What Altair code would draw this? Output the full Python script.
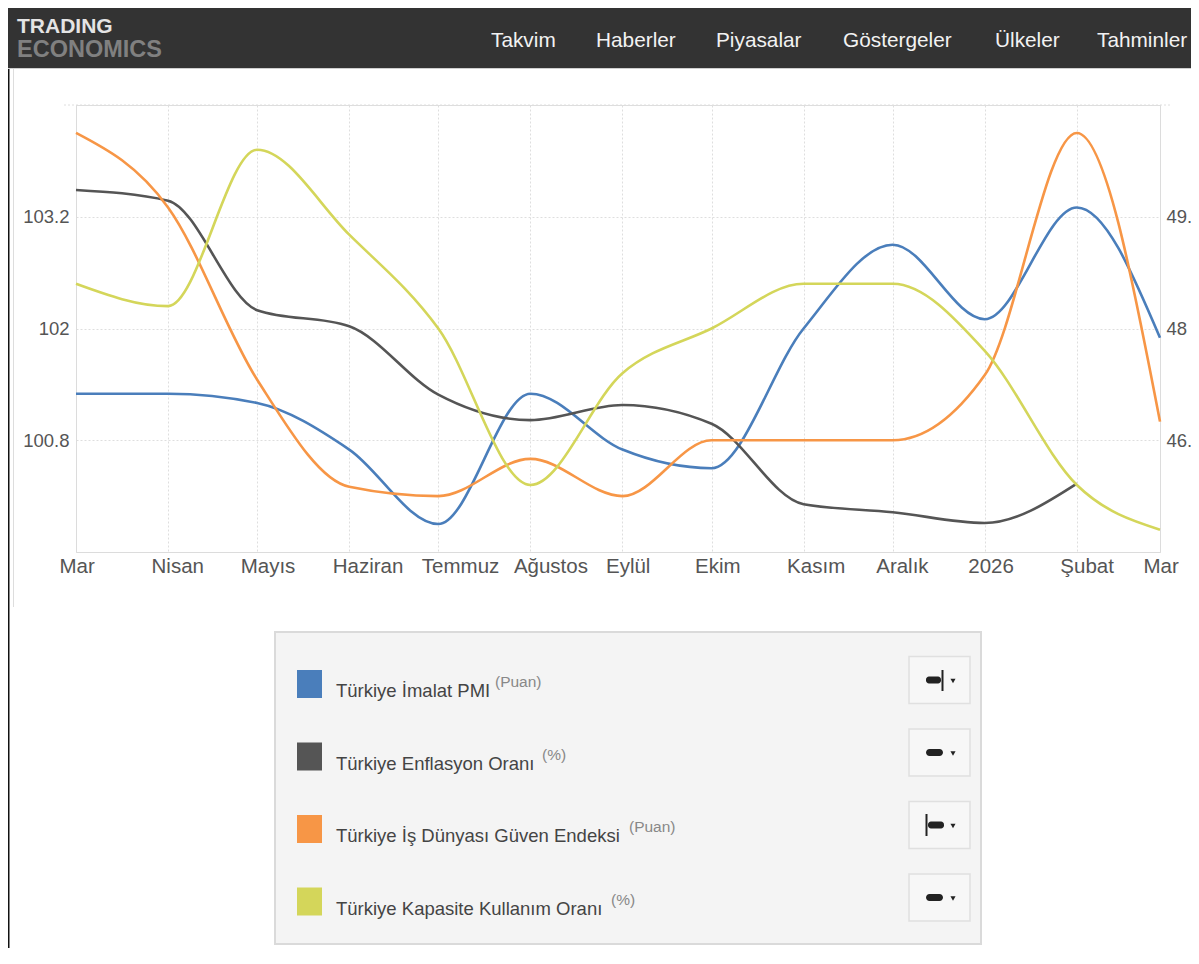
import json
import altair as alt
import pandas as pd

# ---------------- data ----------------
dates = ["2025-03-01", "2025-04-01", "2025-05-01", "2025-06-01", "2025-07-01",
         "2025-08-01", "2025-09-01", "2025-10-01", "2025-11-01", "2025-12-01",
         "2026-01-01", "2026-02-01", "2026-03-01"]
x_labels = ["Mar", "Nisan", "Mayıs", "Haziran", "Temmuz", "Ağustos", "Eylül",
            "Ekim", "Kasım", "Aralık", "2026", "Şubat", "Mar"]

pmi = [47.3, 47.3, 47.2, 46.7, 45.9, 47.3, 46.7, 46.5, 48.0, 48.9, 48.1, 49.3, 47.9]
inflation = [38.1, 37.86, 35.41, 35.05, 33.52, 32.95, 33.29, 32.87, 31.07, 30.89, 30.65, 31.53]
confidence = [104.1, 103.3, 101.45, 100.3, 100.2, 100.6, 100.2, 100.8, 100.8, 100.8, 101.5, 104.1, 101.0]
capacity = [74.6, 74.35, 76.1, 75.15, 74.1, 72.35, 73.6, 74.1, 74.6, 74.6, 73.85, 72.35, 71.85]

series_names = ["Türkiye İmalat PMI", "Türkiye Enflasyon Oranı",
                "Türkiye İş Dünyası Güven Endeksi", "Türkiye Kapasite Kullanım Oranı"]
series_units = ["(Puan)", "(%)", "(Puan)", "(%)"]
series_colors = ["#4a7ebb", "#555555", "#f79646", "#d4d65a"]

nav_items = ["Takvim", "Haberler", "Piyasalar", "Göstergeler", "Ülkeler", "Tahminler"]
left_ticks = [100.8, 102, 103.2, 104.4]
right_ticks = [46.8, 48, 49.2]

# ---------------- layout helpers ----------------
ORIGIN_X, ORIGIN_Y = 76, 105          # page position of plot area's top-left
W, H = 1084, 447
TOTAL_W, TOTAL_H = 1183, 940
FONT = "Liberation Sans, Arial, sans-serif"


def px(x):
    return x - ORIGIN_X


def py(y):
    return y - ORIGIN_Y


one = alt.InlineData(values=[{"k": 1}])


def rect(x1, x2, y1, y2, **kw):
    return alt.Chart(one).mark_rect(**kw).encode(
        x=alt.value(px(x1)), x2=alt.value(px(x2)),
        y=alt.value(py(y1)), y2=alt.value(py(y2)))


def vrule(x, y1, y2, **kw):
    return alt.Chart(one).mark_rule(**kw).encode(
        x=alt.value(px(x)), y=alt.value(py(y1)), y2=alt.value(py(y2)))


def hrule(x1, x2, y, **kw):
    return alt.Chart(one).mark_rule(**kw).encode(
        x=alt.value(px(x1)), x2=alt.value(px(x2)), y=alt.value(py(y)))


def text(s, x, y, **kw):
    return alt.Chart(one).mark_text(text=s, align="left", baseline="alphabetic", **kw).encode(
        x=alt.value(px(x)), y=alt.value(py(y)))


def tri(x, y):
    return alt.Chart(one).mark_point(shape="triangle-down", filled=True, size=26,
                                     color="#222222", opacity=1).encode(
        x=alt.value(px(x)), y=alt.value(py(y)))


def dt(s):
    y, m, d = s.split("-")
    return alt.DateTime(year=int(y), month=int(m), date=int(d), utc=True)


label_expr = ("%s[(utcyear(datum.value)-2025)*12 + utcmonth(datum.value) - 2]"
              % json.dumps(x_labels, ensure_ascii=False))

x_axis = alt.Axis(values=[dt(d) for d in dates], labelExpr=label_expr, grid=True,
                  gridDash=[2, 2], gridColor="#dedede", domainColor="#dcdcdc",
                  ticks=False, tickSize=0, labelFlush=False, labelOverlap=False,
                  labelAlign="left", labelOffset=-17,
                  labelFont=FONT, labelFontSize=20.5, labelColor="#555555",
                  labelPadding=4, title=None)
x_scale = alt.Scale(type="utc", domain=[dt(dates[0]), dt(dates[-1])], nice=False)


def line_layer(values, color, domain, axis):
    df = pd.DataFrame({"date": dates[:len(values)], "value": values})
    return alt.Chart(df).mark_line(interpolate="monotone", color=color, strokeWidth=2.6).encode(
        x=alt.X("date:T", scale=x_scale, axis=x_axis),
        y=alt.Y("value:Q", scale=alt.Scale(domain=domain, nice=False, zero=False), axis=axis))


left_axis = alt.Axis(orient="left", values=left_ticks,
                     labelExpr="datum.value > 104 ? '' : format(datum.value, '~g')",
                     grid=True, gridDash=[2, 2], gridColor="#dedede",
                     domain=True, domainColor="#dcdcdc", ticks=False, tickSize=0,
                     labelFont=FONT, labelFontSize=18.5, labelColor="#555555",
                     labelPadding=7, title=None)
right_axis = alt.Axis(orient="right", values=right_ticks,
                      labelExpr="format(datum.value, '~g')", grid=False,
                      domain=True, domainColor="#dcdcdc", ticks=False, tickSize=0,
                      labelFont=FONT, labelFontSize=18.5, labelColor="#555555",
                      labelPadding=6, title=None)

lines = [
    line_layer(pmi, series_colors[0], [45.6, 50.4], right_axis),
    line_layer(inflation, series_colors[1], [30, 40], None),
    line_layer(confidence, series_colors[2], [99.6, 104.4], left_axis),
    line_layer(capacity, series_colors[3], [71.6, 76.6], None),
]

# ---------------- decorations ----------------
deco = []
# page borders
deco.append(vrule(8.5, 68, 948, color="#111111", strokeWidth=2))
deco.append(vrule(13.5, 69, 607, color="#dddddd", strokeWidth=1))
# top dotted grid extension past the axes
deco.append(hrule(64, 1172, 105, color="#dedede", strokeDash=[2, 2], strokeWidth=1))
# header bar
deco.append(rect(8, 1191, 8, 68, color="#333333"))
deco.append(hrule(8, 1191, 68.5, color="#cfcfcf", strokeWidth=1))
deco.append(text("TRADING", 17, 33, font=FONT, fontSize=21, fontWeight="bold", color="#e4e4e4"))
deco.append(text("ECONOMICS", 17, 57, font=FONT, fontSize=23.5, fontWeight="bold", color="#808080"))
nav_x = [491, 596, 716, 843, 995, 1097]
for name, xx in zip(nav_items, nav_x):
    deco.append(text(name, xx, 47, font=FONT, fontSize=20.8, color="#f2f2f2"))

# legend box
deco.append(rect(275, 981, 632, 944, fill="#f4f4f4", stroke="#dadada", strokeWidth=2))
row_top = [669, 741.5, 814, 886.5]
sup_x = [495, 542, 629, 611]
for i in range(4):
    t = row_top[i]
    deco.append(rect(297, 322, t + 1, t + 29, color=series_colors[i]))
    deco.append(text(series_names[i], 336, t + 28, font=FONT, fontSize=18.5, color="#444444"))
    deco.append(text(series_units[i], sup_x[i], t + 18, font=FONT, fontSize=15.5, color="#888888"))
    c = t + 11
    deco.append(rect(909, 970, c - 23.5, c + 23.5, fill="#f7f7f7", stroke="#e0e0e0", strokeWidth=1.5))
    if i == 0:
        deco.append(rect(926, 941, c - 3.5, c + 3.5, color="#222222", cornerRadius=3))
        deco.append(vrule(942.5, c - 10, c + 11, color="#222222", strokeWidth=2))
    elif i == 2:
        deco.append(vrule(926.5, c - 11, c + 11, color="#222222", strokeWidth=2))
        deco.append(rect(928, 944, c - 3.5, c + 3.5, color="#222222", cornerRadius=3))
    else:
        deco.append(rect(926, 943, c - 3.5, c + 3.5, color="#222222", cornerRadius=3.5))
    deco.append(tri(953, c + 1))

chart = alt.layer(*deco, *lines).resolve_scale(y="independent").properties(
    width=W, height=H,
    autosize=alt.AutoSizeParams(type="none"),
    padding={"left": ORIGIN_X - 8, "top": ORIGIN_Y - 8,
             "right": TOTAL_W - (ORIGIN_X - 8) - W, "bottom": TOTAL_H - (ORIGIN_Y - 8) - H},
).configure_view(stroke=None).configure(background="white")

chart.save("out.html", embed_options={"renderer": "svg", "actions": False})
